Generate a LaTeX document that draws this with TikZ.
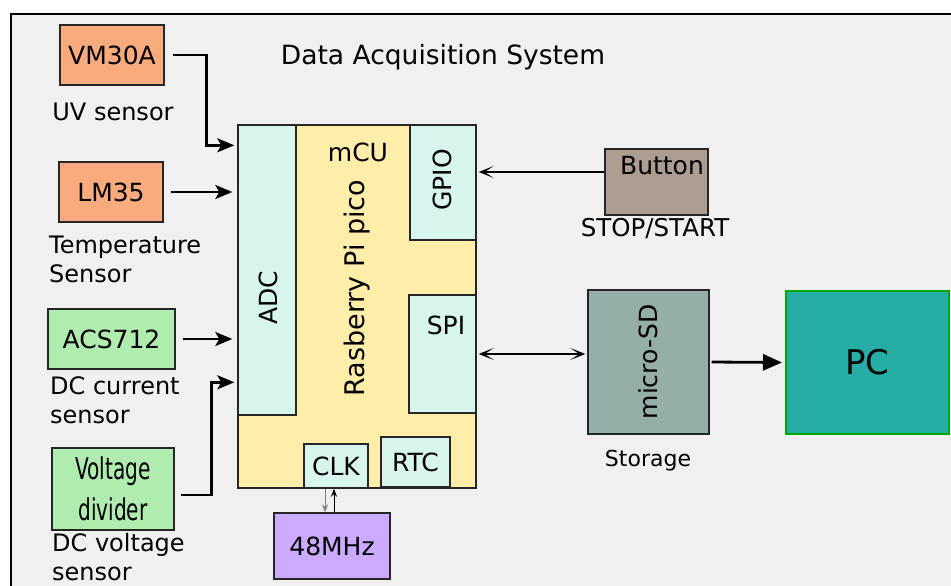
\documentclass[tikz,border=0pt]{standalone}
\usepackage{fontspec}
\setmainfont{DejaVu Sans}
\newfontfamily\narrowfont[FakeStretch=0.67]{DejaVu Sans}
\usetikzlibrary{arrows.meta,positioning}

\definecolor{bgGrey}{HTML}{F0F0F0}
\definecolor{sensOrange}{HTML}{FAAB7D}
\definecolor{sensGreen}{HTML}{B0EBB0}
\definecolor{mcuYellow}{HTML}{FFEEAA}
\definecolor{unitCyan}{HTML}{D7F4EE}
\definecolor{clkPurple}{HTML}{CCAAFF}
\definecolor{btnTaupe}{HTML}{AC9D93}
\definecolor{sdGrey}{HTML}{95AEA9}
\definecolor{pcTeal}{HTML}{26ADA6}
\definecolor{pcGreen}{HTML}{00A800}

\begin{document}
\begin{tikzpicture}[x=1pt, y=-1pt, every node/.style={font=\fontsize{25}{30}\selectfont}]
    \tikzset{
        block/.style={draw=black!85, line width=1.4pt, inner sep=0pt},
        caption/.style={font=\fontsize{24}{29}\selectfont, inner sep=0pt, align=left},
        sig/.style={line width=2.5pt, -{Stealth[length=17pt, width=14pt, inset=4pt]}},
        bus/.style={line width=2pt},
        bustip/.tip={Stealth[length=15pt, width=12pt, inset=9pt]}
    }

    \useasboundingbox (0,0) rectangle (951,586);
    \clip (0,0) rectangle (951,586);
    \draw[line width=2pt, fill=bgGrey] (11,14) rectangle (965,600);

    \node[font=\fontsize{26.5}{30}\selectfont] (title) at (443,57) {Data Acquisition System};

    % sensors
    \node[block, fill=sensOrange, minimum width=104, minimum height=60] (vm) at (112,55) {VM30A};
    \node[caption] (vmcap) at (113,112) {UV sensor};
    \node[block, fill=sensOrange, minimum width=104, minimum height=60] (lm) at (111,192) {LM35};
    \node[caption, anchor=west] (lmcap) at (49,259.5) {Temperature\\Sensor};
    \node[block, fill=sensGreen, minimum width=127, minimum height=60] (acs) at (111.5,339) {ACS712};
    \node[caption, anchor=west] (acscap) at (50,400) {DC current\\sensor};
    \node[block, fill=sensGreen, minimum width=122, minimum height=82, align=center,
          font=\narrowfont\fontsize{30}{41}\selectfont] (vd) at (113,489) {Voltage\\divider};
    \node[caption, anchor=west] (vdcap) at (52,557) {DC voltage\\sensor};

    % microcontroller
    \node[block, fill=mcuYellow, minimum width=238, minimum height=363] (mcu) at (357,306.5) {};
    \node[block, fill=unitCyan, minimum width=58, minimum height=290] (adc) at (267,270) {};
    \node[rotate=90] (adctxt) at (268,298) {ADC};
    \node[block, fill=unitCyan, rotate=90, minimum width=115, minimum height=66] (gpio) at (443,182.5) {};
    \node[rotate=90] (gpiotxt) at (442,180) {GPIO};
    \node[block, fill=unitCyan, minimum width=67, minimum height=118] (spi) at (442.5,354) {};
    \node (spitxt) at (446,325) {SPI};
    \node[block, fill=unitCyan, minimum width=64, minimum height=44] (clk) at (336,466) {CLK};
    \node[block, fill=unitCyan, minimum width=69, minimum height=50] (rtc) at (415.5,462) {RTC};
    \node (mcutxt) at (358,152) {mCU};
    \node[rotate=90, font=\fontsize{27}{30}\selectfont] (pico) at (357,288) {Rasberry Pi pico};
    \node[block, fill=clkPurple, minimum width=116, minimum height=66] (mhz) at (332,546) {48MHz};

    % peripherals
    \node[block, fill=btnTaupe, minimum width=103, minimum height=66] (btn) at (656.5,182) {};
    \node (btntxt) at (662,166) {Button};
    \node[caption, font=\fontsize{24.5}{29}\selectfont] (btncap) at (655,229) {STOP/START};
    \node[block, fill=sdGrey, minimum width=121, minimum height=144] (sd) at (648.5,362) {};
    \node[rotate=90] (sdtxt) at (648,362) {micro-SD};
    \node[caption, font=\fontsize{22}{29}\selectfont] (sdcap) at (648,461) {Storage};
    \node[block, draw=pcGreen, line width=2pt, fill=pcTeal, minimum width=163, minimum height=143,
          font=\fontsize{34}{40}\selectfont] (pc) at (867.5,362.5) {PC};

    % sensor inputs
    \draw[sig, shorten <=8pt, shorten >=3pt] (vm.east) -- ++(42,0) |- ([yshift=-21pt]mcu.north west);
    \foreach \src in {lm,acs} {
        \draw[sig, shorten <=7pt, shorten >=5pt] (\src.east) -- (\src.east -| mcu.west);
    }
    \draw[sig, shorten <=6pt, shorten >=3pt] ([yshift=-6pt]vd.east) -- ++(37,0) |- ([yshift=-258pt]mcu.north west);

    % button, storage, pc
    \draw[bus, -bustip, shorten >=2pt] ([yshift=10pt]btn.west) -- ([yshift=10pt]btn.west -| mcu.east);
    \draw[bus, bustip-bustip, shorten <=2pt, shorten >=2pt] (spi.east) -- (spi.east -| sd.west);
    \draw[line width=2.8pt, -{Triangle[length=19pt, width=16pt]}, shorten <=2pt, shorten >=3pt] (sd.east) -- (pc.west);

    % clock lines
    \draw[gray, line width=1pt, -{Stealth[length=8pt, width=6pt]}] ([xshift=-11pt]clk.south) -- ([xshift=-11pt]clk.south |- mhz.north);
    \draw[line width=1pt, -{Stealth[length=8pt, width=6pt]}] ([xshift=-2pt]clk.south |- mhz.north) -- ([xshift=-2pt]clk.south);
\end{tikzpicture}
\end{document}
